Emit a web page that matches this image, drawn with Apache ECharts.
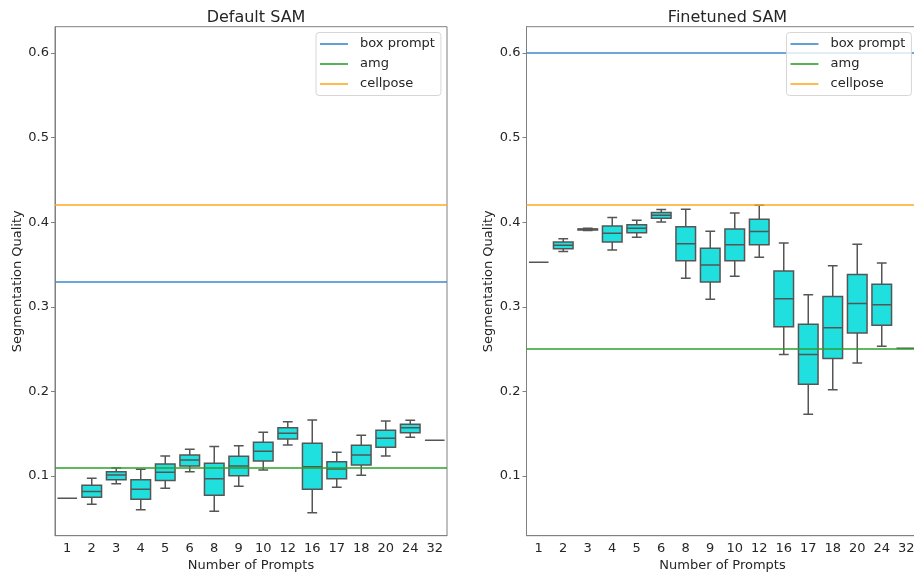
<!DOCTYPE html>
<html><head><meta charset="utf-8">
<script src="https://cdn.jsdelivr.net/npm/echarts@6/dist/echarts.min.js"></script>
<style>html,body{margin:0;padding:0;background:#fff}#c{width:914px;height:575px}</style>
</head><body><div id="c"></div>
<script>
const categories = ['1','2','3','4','5','6','8','9','10','12','16','17','18','20','24','32'];
const yTicks = [0.1, 0.2, 0.3, 0.4, 0.5, 0.6];
const panelTitles = ['Default SAM', 'Finetuned SAM'];
const refNames = ['box prompt', 'amg', 'cellpose'];
const defaultRefValues = [0.329, 0.111, 0.4207];
const finetunedRefValues = [0.6044, 0.251, 0.421];
// each: [lower whisker, q1, median, q3, upper whisker]
const defaultBoxes = [
  [0.0736,0.0736,0.0736,0.0736,0.0736],
  [0.0665,0.0748,0.0815,0.089,0.0973],
  [0.0909,0.0956,0.101,0.105,0.1095],
  [0.0602,0.0725,0.0843,0.0956,0.108],
  [0.0855,0.0945,0.1044,0.1142,0.1236],
  [0.105,0.1118,0.1189,0.1248,0.1316],
  [0.0583,0.0772,0.0968,0.115,0.1347],
  [0.0878,0.1004,0.1118,0.1233,0.1358],
  [0.1071,0.1177,0.1292,0.1398,0.1516],
  [0.1366,0.1437,0.1505,0.1571,0.1642],
  [0.0566,0.0843,0.111,0.1386,0.1662],
  [0.0866,0.0968,0.1083,0.1169,0.128],
  [0.1008,0.113,0.1248,0.1363,0.1481],
  [0.1236,0.1339,0.1446,0.154,0.165],
  [0.1457,0.1512,0.1571,0.1611,0.1658],
  [0.1422,0.1422,0.1422,0.1422,0.1422]
];
const finetunedBoxes = [
  [0.3526,0.3526,0.3526,0.3526,0.3526],
  [0.3652,0.3687,0.3727,0.3766,0.3805],
  [0.39,0.3908,0.3916,0.392,0.3927],
  [0.3671,0.3766,0.3869,0.3955,0.4054],
  [0.3821,0.3876,0.3927,0.397,0.4022],
  [0.4002,0.4046,0.4082,0.4113,0.4148],
  [0.3337,0.3545,0.3746,0.3947,0.4152],
  [0.3089,0.3293,0.3494,0.3691,0.3892],
  [0.3361,0.3545,0.3734,0.392,0.4109],
  [0.3585,0.3734,0.3888,0.4034,0.42],
  [0.2437,0.2765,0.3096,0.3423,0.3754],
  [0.1729,0.2084,0.2437,0.2793,0.3143],
  [0.202,0.2387,0.2753,0.312,0.3486],
  [0.2336,0.269,0.3037,0.338,0.3739],
  [0.2533,0.2781,0.3025,0.3266,0.3518],
  [0.251,0.251,0.251,0.251,0.251]
];

const REF_COLORS = ['#3a8acb', '#2ca02c', '#ffa920'];
const BOX_FILL = '#20dfdf';
const EDGE = '#555555';
const FONT = 'DejaVu Sans';
const TXT = '#262626';
const FRAME = '#808080';

function renderBox(params, api) {
  const xi = api.value(0);
  const vals = [1,2,3,4,5].map(i => api.value(i));
  const band = api.size([1, 0])[0];
  const half = band * 0.4, cap = band * 0.2;
  const p = vals.map(v => api.coord([xi, v]));
  const cx = p[0][0];
  const st = {stroke: EDGE, lineWidth: 1.5, fill: null};
  const ch = [];
  if (vals[0] === vals[4]) {
    ch.push({type:'line', shape:{x1:cx-half, y1:p[2][1], x2:cx+half, y2:p[2][1]}, style:st});
  } else {
    ch.push({type:'line', shape:{x1:cx, y1:p[0][1], x2:cx, y2:p[1][1]}, style:st});
    ch.push({type:'line', shape:{x1:cx, y1:p[3][1], x2:cx, y2:p[4][1]}, style:st});
    ch.push({type:'line', shape:{x1:cx-cap, y1:p[0][1], x2:cx+cap, y2:p[0][1]}, style:st});
    ch.push({type:'line', shape:{x1:cx-cap, y1:p[4][1], x2:cx+cap, y2:p[4][1]}, style:st});
    ch.push({type:'rect', shape:{x:cx-half, y:p[3][1], width:2*half, height:p[1][1]-p[3][1]},
             style:{fill:BOX_FILL, stroke:EDGE, lineWidth:1.5}});
    ch.push({type:'line', shape:{x1:cx-half, y1:p[2][1], x2:cx+half, y2:p[2][1]}, style:st});
  }
  return {type:'group', children: ch};
}

const gridLefts = [55, 526.5];
const legendLefts = [316, 786.5];
const boxSets = [defaultBoxes, finetunedBoxes];
const refSets = [defaultRefValues, finetunedRefValues];

const grids = [], xAxes = [], yAxes = [], series = [], titles = [], legends = [];
for (let g = 0; g < 2; g++) {
  grids.push({left: gridLefts[g], top: 26.7, width: 392, height: 509, show: true,
    borderColor: FRAME, borderWidth: 1, containLabel: false, outerBoundsMode: 'none'});
  titles.push({text: panelTitles[g], left: gridLefts[g] + 196, top: 5, textAlign: 'center',
    textStyle: {fontFamily: FONT, fontSize: 16, fontWeight: 'normal', color: TXT}});
  xAxes.push({type: 'category', gridIndex: g, data: categories, boundaryGap: true,
    axisLine: {lineStyle: {color: FRAME}},
    axisTick: {alignWithLabel: true, length: 4, lineStyle: {color: FRAME}},
    axisLabel: {fontFamily: FONT, fontSize: 13, color: TXT, margin: 6, interval: 0},
    name: 'Number of Prompts', nameLocation: 'middle', nameGap: 22,
    nameTextStyle: {fontFamily: FONT, fontSize: 13, color: TXT}});
  yAxes.push({type: 'value', gridIndex: g, min: 0.0294, max: 0.631,
    axisLine: {show: true, lineStyle: {color: FRAME}},
    axisTick: {show: true, length: 4, customValues: yTicks, lineStyle: {color: FRAME}},
    axisLabel: {customValues: yTicks, formatter: v => v.toFixed(1), fontFamily: FONT,
      fontSize: 13, color: TXT, margin: 6},
    splitLine: {show: false},
    name: 'Segmentation Quality', nameLocation: 'middle', nameGap: 31,
    nameTextStyle: {fontFamily: FONT, fontSize: 13, color: TXT}});
  series.push({type: 'custom', xAxisIndex: g, yAxisIndex: g, renderItem: renderBox, clip: true,
    encode: {x: 0, y: [1,2,3,4,5]}, z: 2,
    data: boxSets[g].map((b, i) => [i].concat(b))});
  for (let r = 0; r < 3; r++) {
    series.push({type: 'line', name: refNames[r], xAxisIndex: g, yAxisIndex: g, data: [], z: 3,
      color: REF_COLORS[r], lineStyle: {color: REF_COLORS[r]}, itemStyle: {color: REF_COLORS[r]},
      markLine: {silent: true, symbol: 'none', label: {show: false},
        lineStyle: {color: REF_COLORS[r], width: 1.6, type: 'solid'},
        emphasis: {disabled: true},
        data: [{yAxis: refSets[g][r]}]}});
  }
  legends.push({data: refNames, orient: 'vertical', left: legendLefts[g], top: 32.5, z: 10,
    icon: 'rect', itemWidth: 28, itemHeight: 1.6, itemGap: 5,
    padding: [4, 6, 4, 4], backgroundColor: 'rgba(255,255,255,0.8)',
    borderColor: '#d6d6d6', borderWidth: 1, borderRadius: 3,
    selectedMode: false,
    textStyle: {fontFamily: FONT, fontSize: 13, color: TXT, padding: [0, 0, 0, 7], lineHeight: 15}});
}

const chart = echarts.init(document.getElementById('c'), null, {renderer: 'canvas'});
chart.setOption({
  animation: false, backgroundColor: '#fff',
  title: titles, grid: grids, xAxis: xAxes, yAxis: yAxes, legend: legends, series: series
});
</script></body></html>
